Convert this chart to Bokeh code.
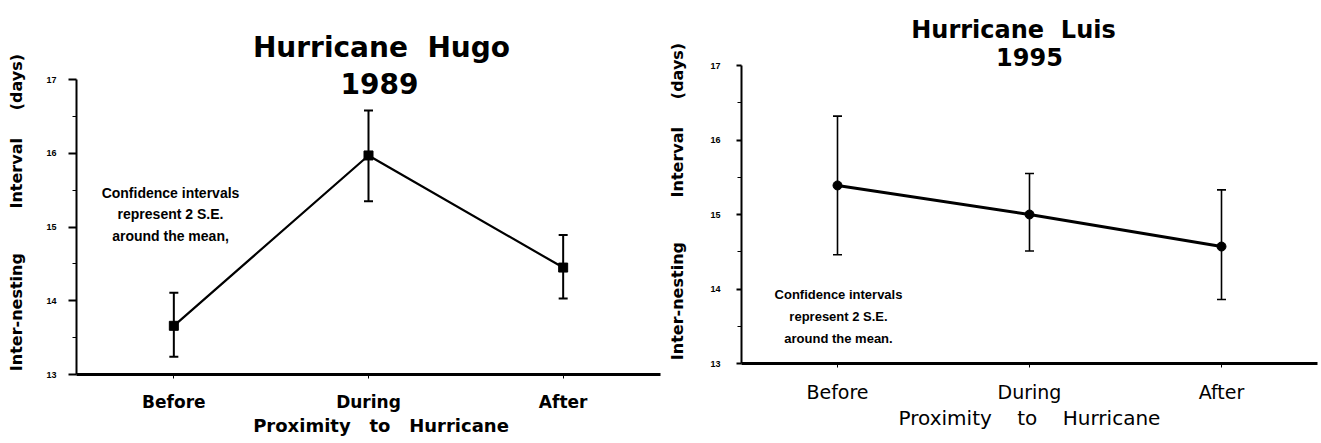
from bokeh.plotting import figure
from bokeh.models import ColumnDataSource, Whisker, TeeHead, Label, FixedTicker, Range1d
from bokeh.layouts import row, column
from bokeh.embed import file_html
from bokeh.resources import INLINE

# ---------------- data ----------------
categories = ["Before", "During", "After"]
y_ticks = [13, 14, 15, 16, 17]

hugo_mean = [13.66, 15.97, 14.45]
hugo_upper = [14.11, 16.58, 14.89]
hugo_lower = [13.24, 15.35, 14.03]

luis_mean = [15.39, 15.00, 14.57]
luis_upper = [16.32, 15.55, 15.33]
luis_lower = [14.46, 14.51, 13.86]

x_pos = list(range(1, len(categories) + 1))
y_minor = [(a + b) / 2 for a, b in zip(y_ticks[:-1], y_ticks[1:])]

NB = "\u00a0"
X_LABEL_L = NB * 4 + "Proximity" + NB * 2 + " to" + NB * 2 + " Hurricane"
X_LABEL_R = "Proximity" + NB * 3 + " to" + NB * 3 + " Hurricane"

H = 443


def ylabel(trailing):
    return "Inter-nesting" + NB * 7 + " Interval" + NB * 4 + " (days)" + NB * trailing


class Panel:
    def __init__(self, mean, upper, lower, *, width, border_left, border_right, border_bottom,
                 px_per_unit, marker, bold, tick_font, xlab_font, ylab_font, xlabel, trailing,
                 tick_standoff, ylab_standoff, ytick_out, ytick_standoff, line_w, err_w):
        self.frame_h = H - border_bottom
        self.ppu = px_per_unit
        self.left = border_left
        self.xppu = (width - border_left - border_right) / 3.0
        y_end = y_ticks[0] + self.frame_h / px_per_unit
        p = figure(width=width, height=H, output_backend="svg", toolbar_location=None,
                   x_range=Range1d(0.5, 3.5), y_range=Range1d(y_ticks[0], y_end),
                   min_border_left=border_left, min_border_right=border_right,
                   min_border_top=0, min_border_bottom=border_bottom)
        p.title.visible = False
        p.grid.visible = False
        p.outline_line_color = None
        p.background_fill_color = "white"
        p.border_fill_color = "white"
        weight = "bold" if bold else "normal"

        xa = p.xaxis[0]
        xa.ticker = FixedTicker(ticks=x_pos)
        xa.major_label_overrides = {x: c for x, c in zip(x_pos, categories)}
        xa.axis_line_width = 3
        xa.major_tick_out = 4
        xa.major_tick_in = 0
        xa.minor_tick_line_color = None
        xa.major_label_text_font = "DejaVu Sans"
        xa.major_label_text_font_size = tick_font
        xa.major_label_text_font_style = weight
        xa.major_label_text_color = "black"
        xa.major_label_standoff = tick_standoff
        xa.axis_label = xlabel
        xa.axis_label_text_font = "DejaVu Sans"
        xa.axis_label_text_font_size = xlab_font
        xa.axis_label_text_font_style = weight
        xa.axis_label_text_color = "black"
        xa.axis_label_standoff = 0

        ya = p.yaxis[0]
        ya.bounds = (y_ticks[0], y_ticks[-1])
        ya.ticker = FixedTicker(ticks=y_ticks, minor_ticks=y_minor)
        ya.axis_line_width = 2
        ya.major_tick_out = ytick_out
        ya.major_tick_in = 0
        ya.minor_tick_out = 4
        ya.minor_tick_in = 0
        ya.major_tick_line_width = 2
        ya.major_label_text_font = "Liberation Sans"
        ya.major_label_text_font_size = "9px"
        ya.major_label_text_font_style = "bold"
        ya.major_label_text_color = "black"
        ya.major_label_standoff = ytick_standoff
        ya.axis_label = ylabel(trailing)
        ya.axis_label_text_font = "DejaVu Sans"
        ya.axis_label_text_font_size = ylab_font
        ya.axis_label_text_font_style = "bold"
        ya.axis_label_text_color = "black"
        ya.axis_label_standoff = ylab_standoff

        src = ColumnDataSource(dict(x=x_pos, mean=mean, upper=upper, lower=lower))
        w = Whisker(base="x", upper="upper", lower="lower", source=src, dimension="height",
                    line_width=err_w, line_color="black",
                    upper_head=TeeHead(size=9, line_width=err_w, line_color="black"),
                    lower_head=TeeHead(size=9, line_width=err_w, line_color="black"))
        p.add_layout(w)
        p.line("x", "mean", source=src, line_width=line_w, line_color="black")
        p.scatter("x", "mean", source=src, marker=marker, size=9,
                  fill_color="black", line_color="black")
        self.p = p

    # place a text label at a pixel position inside the panel (converted to data units)
    def text(self, px, py, text, size, baseline="alphabetic", font="DejaVu Sans", lh=1.2,
             style="bold"):
        x = 0.5 + (px - self.left) / self.xppu
        y = y_ticks[0] + (self.frame_h - py) / self.ppu
        self.p.add_layout(Label(x=x, y=y, text=text, text_align="center",
                                text_baseline=baseline, text_font=font,
                                text_font_style=style, text_font_size=size,
                                text_line_height=lh, text_color="black"))


L = Panel(hugo_mean, hugo_upper, hugo_lower, width=664, border_left=76, border_right=4,
          border_bottom=69, px_per_unit=73.75, marker="square", bold=True,
          tick_font="17px", xlab_font="18px", ylab_font="16px", xlabel=X_LABEL_L, trailing=9,
          tick_standoff=13, ylab_standoff=17, ytick_out=8, ytick_standoff=12,
          line_w=2.2, err_w=2)
L.text(381, 47, "Hurricane" + NB + " Hugo", "28px")
L.text(379, 83, "1989", "28px")
L.text(170, 214, "Confidence intervals\nrepresent 2 S.E.\naround the mean,", "14px",
       baseline="middle", font="Liberation Sans", lh=1.32)

R = Panel(luis_mean, luis_upper, luis_lower, width=657, border_left=77, border_right=4,
          border_bottom=80, px_per_unit=74.5, marker="circle", bold=False,
          tick_font="19px", xlab_font="20px", ylab_font="16px", xlabel=X_LABEL_R, trailing=7,
          tick_standoff=13, ylab_standoff=20, ytick_out=5, ytick_standoff=16,
          line_w=3, err_w=1.6)
R.text(1013 - 664, 29, "Hurricane" + NB + " Luis", "24px")
R.text(1029 - 664, 56, "1995", "24px")
R.text(838 - 664, 316, "Confidence intervals\nrepresent 2 S.E.\naround the mean.", "13px",
       baseline="middle", font="Liberation Sans", lh=1.45)

layout = row(column(L.p), column(R.p))
open("out.html", "w").write(file_html(layout, INLINE))
